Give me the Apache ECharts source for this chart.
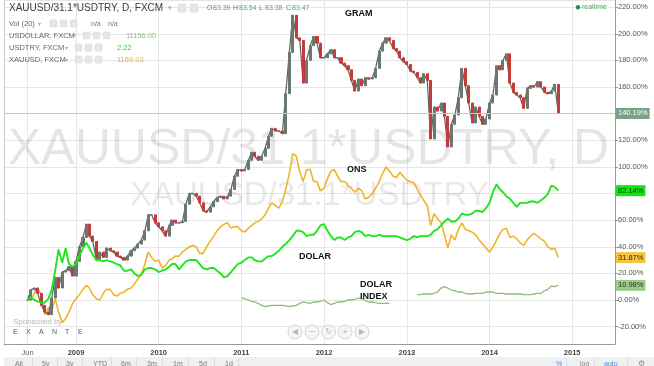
<!DOCTYPE html>
<html><head><meta charset="utf-8">
<script src="https://cdn.jsdelivr.net/npm/echarts/dist/echarts.min.js"></script>
<style>html,body{margin:0;padding:0;background:#fff}#c{width:654px;height:366px}</style>
</head><body><div id="c"></div>
<script>
// semi-monthly sample dates
const dates = [
'2008-06-01','2008-06-16','2008-07-01','2008-07-16','2008-08-01','2008-08-16','2008-09-01','2008-09-16','2008-10-01','2008-10-16','2008-11-01','2008-11-16','2008-12-01','2008-12-16',
'2009-01-01','2009-01-16','2009-02-01','2009-02-16','2009-03-01','2009-03-16','2009-04-01','2009-04-16','2009-05-01','2009-05-16','2009-06-01','2009-06-16','2009-07-01','2009-07-16','2009-08-01','2009-08-16','2009-09-01','2009-09-16','2009-10-01','2009-10-16','2009-11-01','2009-11-16','2009-12-01','2009-12-16',
'2010-01-01','2010-01-16','2010-02-01','2010-02-16','2010-03-01','2010-03-16','2010-04-01','2010-04-16','2010-05-01','2010-05-16','2010-06-01','2010-06-16','2010-07-01','2010-07-16','2010-08-01','2010-08-16','2010-09-01','2010-09-16','2010-10-01','2010-10-16','2010-11-01','2010-11-16','2010-12-01','2010-12-16',
'2011-01-01','2011-01-16','2011-02-01','2011-02-16','2011-03-01','2011-03-16','2011-04-01','2011-04-16','2011-05-01','2011-05-16','2011-06-01','2011-06-16','2011-07-01','2011-07-16','2011-08-01','2011-08-16','2011-09-01','2011-09-16','2011-10-01','2011-10-16','2011-11-01','2011-11-16','2011-12-01','2011-12-16',
'2012-01-01','2012-01-16','2012-02-01','2012-02-16','2012-03-01','2012-03-16','2012-04-01','2012-04-16','2012-05-01','2012-05-16','2012-06-01','2012-06-16','2012-07-01','2012-07-16','2012-08-01','2012-08-16','2012-09-01','2012-09-16','2012-10-01','2012-10-16','2012-11-01','2012-11-16','2012-12-01','2012-12-16',
'2013-01-01','2013-01-16','2013-02-01','2013-02-16','2013-03-01','2013-03-16','2013-04-01','2013-04-16','2013-05-01','2013-05-16','2013-06-01','2013-06-16','2013-07-01','2013-07-16','2013-08-01','2013-08-16','2013-09-01','2013-09-16','2013-10-01','2013-10-16','2013-11-01','2013-11-16','2013-12-01','2013-12-16',
'2014-01-01','2014-01-16','2014-02-01','2014-02-16','2014-03-01','2014-03-16','2014-04-01','2014-04-16','2014-05-01','2014-05-16','2014-06-01','2014-06-16','2014-07-01','2014-07-16','2014-08-01','2014-08-16','2014-09-01','2014-09-16','2014-10-01','2014-10-16','2014-11-01'
];
// GRAM (XAUUSD/31.1*USDTRY) % change
const gram = [
0,7.6,9,5,-4,-9,-11,1.5,17,9,21,22,25,18,
29,40,47,57,48,44,30,36,32,39,37,36,33,32,30,33,37,39,42,45,52,64,64,58,
55,52,48,56,60,58,58,59,72,80,80,78,73,67,66,70,74,77,78,76,78,83,93,98,
97,98,105,111,108,105,108,114,123,129,127,127,125,155,186,214,197,195,163,180,191,198,193,182,
182,185,188,182,182,178,176,173,165,157,166,161,167,166,167,174,187,193,197,195,189,187,182,179,
177,172,171,167,163,170,165,121,145,142,148,138,115,132,139,152,174,161,148,133,145,138,132,136,
148,154,176,173,180,185,163,156,154,152,144,159,161,160,164,160,156,155,157,162,140.19
];
// ONS (XAUUSD)
const ons = [
0,0,5,9,3,-11,-6,-8,1,-9,-17,-14,-9,-3,
1,4,8,11,9,4,1,0,5,8,8,4,3,5,6,8,9,12,16,19,27,36,32,29,
30,24,26,30,31,33,33,36,38,40,41,40,35,35,40,44,48,52,55,57,58,54,55,55,
52,51,54,56,58,59,61,64,69,73,71,69,74,83,95,110,108,96,89,98,98,89,89,82,
84,91,97,98,93,89,89,86,84,81,84,82,76,77,80,84,89,95,100,97,93,92,96,93,
90,89,88,83,79,75,71,56,65,61,58,49,39,49,45,53,58,53,52,51,49,45,42,39,
36,40,45,50,53,54,47,48,46,43,41,45,48,50,48,46,44,40,38,39,31.87
];
// DOLAR (USDTRY)
const dolar = [
0,2,0,-1,-2,-2,1,8,22,38,28,39,27,25,
27,33,39,43,39,34,30,30,29,30,29,28,27,26,22,22,23,20,18,19,23,24,24,23,
21,22,23,25,27,27,23,26,29,30,30,30,27,24,23,24,24,22,20,17,18,21,24,27,
28,30,32,32,30,29,29,31,33,33,35,37,40,42,45,48,52,52,51,48,49,49,52,56,
57,52,48,45,47,47,45,47,48,51,52,51,48,49,48,48,49,48,48,48,48,48,47,46,
45,46,48,47,48,48,48,49,52,53,56,59,61,59,59,61,65,64,64,65,67,67,66,69,
73,81,87,83,81,78,76,73,70,73,73,73,74,74,73,75,77,80,86,85,82.14
];
// DOLAR INDEX (USDOLLAR), starting 2011-01-01
const dolarIndexFrom = '2011-01-01';
const dolarIndex = [
1.5,1,0,-1,-1.5,-2.5,-4,-5,-4.5,-4,-4,-4,-4,-4.5,-5,-4.5,-4,-2.5,-1.5,-2,-2.5,-1.5,-1.5,-1,
0,-2,-3.5,-2.5,-1.5,-1.5,-1,0,0,0.5,1.5,1,-0.5,-1.5,-1.5,-2,-2.5,-2.5,-2.5,-2.5,null,null,null,null,
null,null,null,4,4,4.5,4.5,4.5,5,6,9,10,9,7.5,7,6,6,5,4.5,4.5,5,5,5,6,
6,6,5,5,5,4.5,4.5,4.5,4.5,4.5,4,4,4,4.5,5,5,7,8,10.5,10,10.98
];
const xTickDates = ['2008-06-01','2009-01-01','2010-01-01','2011-01-01','2012-01-01','2013-01-01','2014-01-01','2015-01-01'];
const xTickLabels = ['Jun','2009','2010','2011','2012','2013','2014','2015'];
const xRange = ['2008-02-18','2015-07-09'];
const yRange = [-33.06, 225.4];

const ts = s => Date.parse(s + 'T00:00:00Z');
const last = a => a[a.length - 1];
const pairs = (arr, off) => arr.map((v, i) => [ts(dates[i + (off || 0)]), v]);
const candle = gram.map((c, i) => { const o = i ? gram[i - 1] : gram[0]; return [ts(dates[i]), o, c, Math.min(o, c), Math.max(o, c)]; });
const xTickTs = xTickDates.map(ts);
const FF = '"Liberation Sans", Arial, sans-serif';

function tag(value, bg, fg, lineColor) {
  return {
    silent: true, animation: false, symbol: ['none', 'none'],
    data: [{ yAxis: value }],
    lineStyle: { color: lineColor || 'rgba(0,0,0,0)', width: 1, type: 'solid' },
    label: { show: true, position: 'end', distance: 1, formatter: value.toFixed(2) + '%',
      backgroundColor: bg, color: fg, fontSize: 7.5, fontFamily: FF, padding: [2, 2, 1, 2] },
    emphasis: { disabled: true }
  };
}
const T = (text, x, y, font, fill, extra) => ({ type: 'text', z: 100, silent: true,
  style: Object.assign({ text, x, y, font, fill, align: 'left', verticalAlign: 'middle', textAlign: 'left', textVerticalAlign: 'middle' }, extra || {}) });
const box = (x, y, w, h) => ({ type: 'rect', z: 100, silent: true, shape: { x, y, width: w, height: h, r: 1 }, style: { fill: '#e6e6e6', stroke: '#d6d6d6', lineWidth: 0.5 } });

const g = [];
// watermarks
g.push({ type: 'text', z: 1, silent: true, style: { text: 'XAUUSD/31.1*USDTRY, D', x: 8, y: 150, font: '50px ' + FF, fill: 'rgba(0,0,0,0.10)', align: 'left', verticalAlign: 'middle', textAlign: 'left', textVerticalAlign: 'middle' } });
g.push({ type: 'text', z: 1, silent: true, style: { text: 'XAUUSD/31.1*USDTRY', x: 130, y: 196, font: '33px ' + FF, fill: 'rgba(0,0,0,0.09)', align: 'left', verticalAlign: 'middle', textAlign: 'left', textVerticalAlign: 'middle' } });
// header legend
g.push(T('XAUUSD/31.1*USDTRY, D, FXCM', 9, 8, '10px ' + FF, '#3c3c3c'));
g.push(T('▾', 168, 8, '7px ' + FF, '#aaa'));
g.push(box(178, 4, 8, 8), box(190, 4, 8, 8));
[['O', 207], ['83.39', 213], ['H', 233], ['83.54', 239], ['L', 259], ['83.38', 265], ['C', 286], ['83.47', 292]].forEach((p, i) => g.push(T(p[0], p[1], 8, '7px ' + FF, i % 2 ? '#5aa473' : '#6a7a70')));
g.push(T('Vol (20)', 9, 24, '7.5px ' + FF, '#666'), T('▾', 38, 24, '6px ' + FF, '#aaa'), box(50, 20, 7, 7), box(60, 20, 7, 7), box(70, 20, 7, 7), T('n/a', 91, 24, '7px ' + FF, '#777'), T('n/a', 108, 24, '7px ' + FF, '#777'));
g.push(T('USDOLLAR, FXCM', 9, 35.5, '7.5px ' + FF, '#666'), T('▾', 73, 35.5, '6px ' + FF, '#aaa'), box(83, 32, 7, 7), box(93, 32, 7, 7), box(103, 32, 7, 7), T('11156.00', 126, 35.5, '7.5px ' + FF, '#8cc47a'));
g.push(T('USDTRY, FXCM', 9, 48, '7.5px ' + FF, '#666'), T('▾', 65, 48, '6px ' + FF, '#aaa'), box(75, 44, 7, 7), box(85, 44, 7, 7), box(95, 44, 7, 7), T('2.22', 117, 48, '7.5px ' + FF, '#2fd42f'));
g.push(T('XAUUSD, FXCM', 9, 60, '7.5px ' + FF, '#666'), T('▾', 65, 60, '6px ' + FF, '#aaa'), box(75, 56, 7, 7), box(85, 56, 7, 7), box(95, 56, 7, 7), T('1169.03', 117, 60, '7.5px ' + FF, '#f0b040'));
// realtime
g.push({ type: 'circle', z: 100, silent: true, shape: { cx: 578, cy: 7.3, r: 2.2 }, style: { fill: '#2e8a55' } });
g.push(T('realtime', 582, 7.3, '7px ' + FF, '#5aa070'));
// annotations
const bold = 'bold 9px ' + FF;
g.push(T('GRAM', 345, 14, bold, '#111'), T('ONS', 347, 170, bold, '#111'), T('DOLAR', 299, 257, bold, '#111'), T('DOLAR', 360, 285, bold, '#111'), T('INDEX', 360, 297, bold, '#111'));
// sponsored
g.push(T('Sponsored by', 13, 321.5, '8px ' + FF, '#b5b5b5'));
['E', 'X', 'A', 'N', 'T', 'E'].forEach((c, i) => g.push(T(c, 13 + i * 13, 332, '7px ' + FF, '#555')));
// nav buttons
[['◀', 295], ['−', 312], ['↻', 328.5], ['+', 345], ['▶', 362]].forEach(p => {
  g.push({ type: 'circle', z: 100, silent: true, shape: { cx: p[1], cy: 332, r: 7 }, style: { fill: 'rgba(245,245,245,0.9)', stroke: '#d4d4d4', lineWidth: 1 } });
  g.push(T(p[0], p[1], 332, '8px "DejaVu Sans"', '#b8b8b8', { align: 'center', textAlign: 'center' }));
});
// left border
g.push({ type: 'line', z: 50, silent: true, shape: { x1: 4.5, y1: 0, x2: 4.5, y2: 344 }, style: { stroke: '#c8c8c8', lineWidth: 1 } });
// bottom toolbar
g.push({ type: 'rect', z: 100, silent: true, shape: { x: 4, y: 357, width: 650, height: 9 }, style: { fill: '#eef0f2' } });
[['All', 15], ['5y', 42], ['3y', 66], ['YTD', 93], ['6m', 121], ['3m', 147], ['1m', 173], ['5d', 199], ['1d', 225]].forEach(p => g.push(T(p[0], p[1], 364.5, '7px ' + FF, '#777')));
[32, 57, 82, 111, 136, 162, 188, 214, 238].forEach(x => g.push({ type: 'line', z: 101, silent: true, shape: { x1: x + .5, y1: 358, x2: x + .5, y2: 366 }, style: { stroke: '#dadde0', lineWidth: 1 } }));
g.push(T('%', 556, 364.5, '7px ' + FF, '#4a90d9'), T('log', 580, 364.5, '7px ' + FF, '#888'), T('auto', 604, 364.5, '7px ' + FF, '#4a90d9'), T('⚙', 638, 364, '8px "DejaVu Sans"', '#888'));
[566, 594, 627].forEach(x => g.push({ type: 'line', z: 101, silent: true, shape: { x1: x + .5, y1: 358, x2: x + .5, y2: 366 }, style: { stroke: '#dadde0', lineWidth: 1 } }));

const chart = echarts.init(document.getElementById('c'));
chart.setOption({
  animation: false,
  backgroundColor: '#fff',
  grid: { left: 4, right: 39, top: 0, bottom: 22, containLabel: false },
  xAxis: {
    type: 'value', min: ts(xRange[0]), max: ts(xRange[1]),
    axisLine: { show: true, onZero: false, lineStyle: { color: '#9a9a9a' } },
    axisTick: { show: false, customValues: xTickTs },
    axisLabel: {
      customValues: xTickTs, margin: 5,
      formatter: v => { const i = xTickTs.findIndex(t => Math.abs(t - v) < 864e5); const s = xTickLabels[i] || ''; return s === 'Jun' ? '{m|' + s + '}' : '{y|' + s + '}'; },
      rich: { m: { fontSize: 7.5, color: '#666', fontFamily: FF }, y: { fontSize: 7.5, fontWeight: 'bold', color: '#444', fontFamily: FF } }
    },
    splitLine: { show: true, lineStyle: { color: '#e6e6e6', width: 1 } }
  },
  yAxis: {
    type: 'value', position: 'right', min: yRange[0], max: yRange[1], splitNumber: 13,
    axisLine: { show: true, lineStyle: { color: '#9a9a9a' } },
    axisTick: { show: true, length: 3, lineStyle: { color: '#9a9a9a' } },
    axisLabel: { showMinLabel: false, showMaxLabel: false, margin: 3, fontSize: 7.5, color: '#555', fontFamily: FF, formatter: v => v.toFixed(2) + '%' },
    splitLine: { show: true, lineStyle: { color: '#e6e6e6', width: 1 } }
  },
  series: [
    { type: 'line', name: 'DOLAR INDEX', data: pairs(dolarIndex, dates.indexOf(dolarIndexFrom)), symbol: 'none', connectNulls: false,
      lineStyle: { color: '#8fbc7c', width: 1.3 }, z: 2, markLine: tag(last(dolarIndex), '#9ccb8a', '#24361f') },
    { type: 'line', name: 'ONS', data: pairs(ons), symbol: 'none', lineStyle: { color: '#f0b42c', width: 1.6 }, z: 3,
      markLine: tag(last(ons), '#f6c445', '#3b2c00') },
    { type: 'line', name: 'GRAM line', data: pairs(gram), symbol: 'none', lineStyle: { color: '#646866', width: 1.3 }, z: 4 },
    { type: 'candlestick', name: 'GRAM', data: candle, encode: { x: 0, y: [1, 2, 3, 4] }, barWidth: 2.6, z: 4,
      itemStyle: { color: '#6b786f', color0: '#c23d3a', borderColor: '#6b786f', borderColor0: '#c23d3a', borderWidth: 1 },
      markLine: tag(last(gram), '#77a286', '#ffffff', '#c3c8c4') },
    { type: 'line', name: 'DOLAR', data: pairs(dolar), symbol: 'none', lineStyle: { color: '#1ee61e', width: 1.9 }, z: 5,
      markLine: tag(last(dolar), '#12e612', '#0b320b') }
  ],
  graphic: g
});
</script>
</body></html>
